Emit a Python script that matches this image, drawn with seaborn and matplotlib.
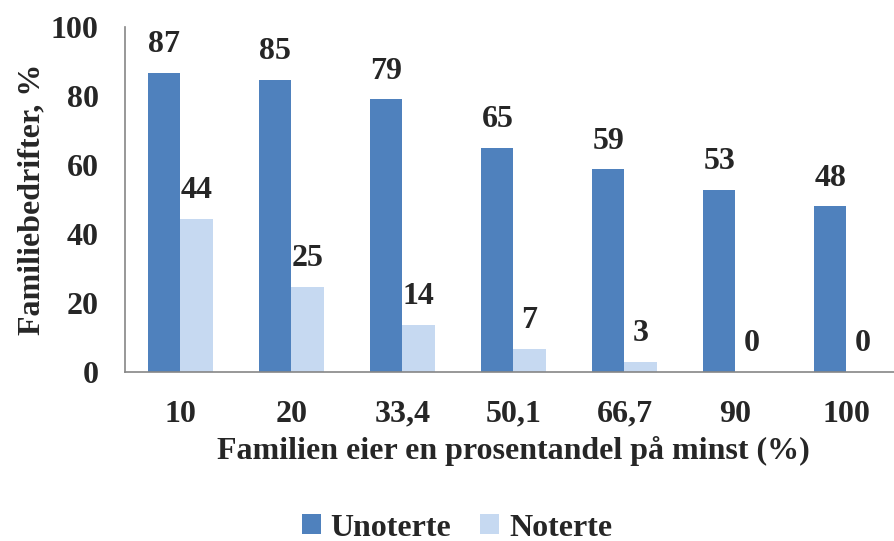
import matplotlib
matplotlib.use("Agg")
import matplotlib.pyplot as plt
import seaborn as sns
import pandas as pd
import numpy as np

# Data
kategorier = ["10", "20", "33,4", "50,1", "66,7", "90", "100"]
unoterte = [86.7, 84.7, 79.0, 65.0, 58.7, 52.7, 48.0]
noterte = [44.4, 24.6, 13.7, 6.7, 3.0, 0.0, 0.0]
serier = ["Unoterte", "Noterte"]
farger = {"Unoterte": "#4F81BD", "Noterte": "#C6D9F1"}
y_ticks = [0, 20, 40, 60, 80, 100]

df = pd.DataFrame({
    "kategori": kategorier * 2,
    "verdi": unoterte + noterte,
    "type": ["Unoterte"] * len(kategorier) + ["Noterte"] * len(kategorier),
})

sns.set_style("white")
plt.rcParams["font.family"] = ["Liberation Serif", "DejaVu Serif"]
plt.rcParams["font.weight"] = "bold"

AXIS_COL = "#868686"
FS = 23

fig = plt.figure(figsize=(8.95, 5.41), dpi=100)
ax = fig.add_axes([125 / 895, 1 - 372 / 541, 777 / 895, 345 / 541])

sns.barplot(data=df, x="kategori", y="verdi", hue="type", hue_order=serier,
            order=kategorier, palette=farger, width=0.58, saturation=1,
            linewidth=0, ax=ax, legend=True)

for cont in ax.containers:
    ax.bar_label(cont, fmt="%.0f", padding=10, fontsize=FS, fontweight="bold")

ax.set_ylim(0, 100)
ax.set_xlim(-0.5, len(kategorier) - 0.5)
ax.set_yticks(y_ticks)
ax.set_yticklabels([str(v) for v in y_ticks], fontsize=FS, fontweight="bold")
ax.set_xticks(range(len(kategorier)))
ax.set_xticklabels(kategorier, fontsize=FS, fontweight="bold")
ax.set_xticks(np.arange(-0.5, len(kategorier), 1.0), minor=True)
ax.tick_params(axis="x", which="major", length=0, pad=20)
ax.tick_params(axis="x", which="minor", length=7, color=AXIS_COL, width=1.2)
ax.tick_params(axis="y", length=7, color=AXIS_COL, width=1.2, pad=12)

for side in ["top", "right"]:
    ax.spines[side].set_visible(False)
for side in ["left", "bottom"]:
    ax.spines[side].set_color(AXIS_COL)
    ax.spines[side].set_linewidth(1.2)

ax.set_xlabel("Familien eier en prosentandel på minst (%)", fontsize=FS,
              fontweight="bold", labelpad=5)
ax.set_ylabel("Familiebedrifter, %", fontsize=FS, fontweight="bold", labelpad=3)

handles, labels = ax.get_legend_handles_labels()
ax.get_legend().remove()
fig.legend(handles, labels, loc="center", bbox_to_anchor=(457 / 895, 1 - 528 / 541),
           ncol=2, frameon=False, prop={"size": FS, "weight": "bold"},
           handlelength=0.6, handleheight=0.6, handletextpad=0.3,
           columnspacing=0.9)

fig.savefig("out.png", dpi=100)
